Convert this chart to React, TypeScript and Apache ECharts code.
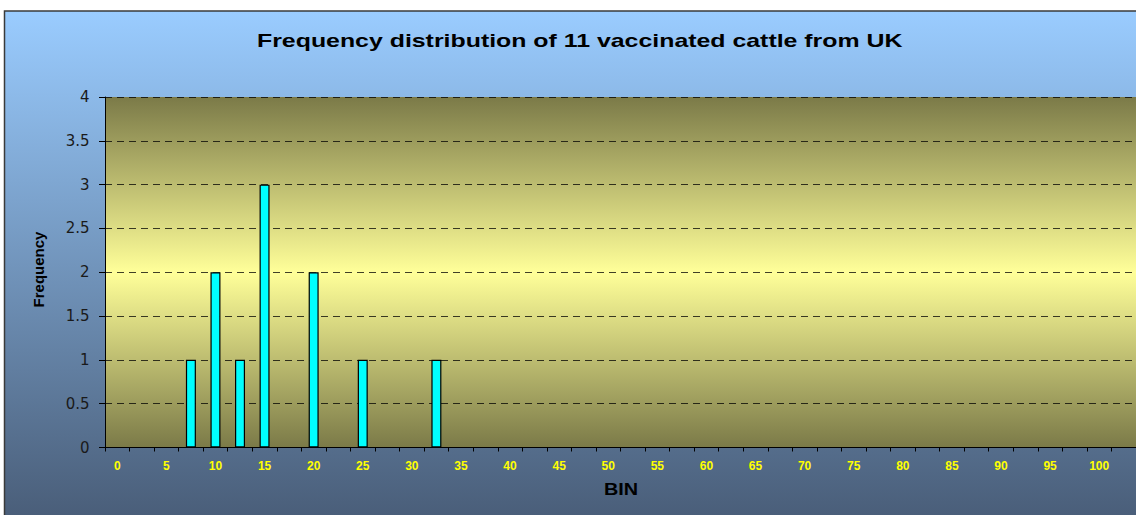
import React, { useEffect, useRef } from "react";
import * as echarts from "echarts";

const TITLE = "Frequency distribution of 11 vaccinated cattle from UK";
const X_NAME = "BIN";
const Y_NAME = "Frequency";

const bins: string[] = [
  "0", "2.5", "5", "7.5", "10", "12.5", "15", "17.5", "20", "22.5",
  "25", "27.5", "30", "32.5", "35", "37.5", "40", "42.5", "45", "47.5",
  "50", "52.5", "55", "57.5", "60", "62.5", "65", "67.5", "70", "72.5",
  "75", "77.5", "80", "82.5", "85", "87.5", "90", "92.5", "95", "97.5",
  "100", "More",
];

const frequency: number[] = [
  0, 0, 0, 1, 2, 1, 3, 0, 2, 0,
  1, 0, 0, 1, 0, 0, 0, 0, 0, 0,
  0, 0, 0, 0, 0, 0, 0, 0, 0, 0,
  0, 0, 0, 0, 0, 0, 0, 0, 0, 0,
  0, 0,
];

const FONT = "Arial, 'Liberation Sans', sans-serif";

export default function App() {
  const ref = useRef<HTMLDivElement>(null);
  useEffect(() => {
    if (!ref.current) return;
    const chart = echarts.init(ref.current, undefined, { renderer: "svg" });
    chart.setOption({
      animation: false,
      backgroundColor: "#ffffff",
      graphic: [
        {
          type: "rect",
          z: -10,
          silent: true,
          shape: { x: 4.5, y: 11, width: 1140, height: 510 },
          style: {
            fill: new echarts.graphic.LinearGradient(0, 0, 0, 1, [
              { offset: 0, color: "#9ACCFF" },
              { offset: 1, color: "#495D78" },
            ]),
            stroke: "#3a3a3a",
            lineWidth: 1.5,
          },
        },
        {
          type: "text",
          x: 257,
          y: 41,
          scaleX: 1.31,
          silent: true,
          style: {
            text: TITLE,
            font: `bold 19px ${FONT}`,
            fill: "#000",
            align: "left",
            verticalAlign: "middle",
          },
        },
        {
          type: "text",
          x: 621,
          y: 490,
          scaleX: 1.24,
          silent: true,
          style: {
            text: X_NAME,
            font: `bold 16px ${FONT}`,
            fill: "#000",
            align: "center",
            verticalAlign: "middle",
          },
        },
        {
          type: "text",
          x: 38,
          y: 269.5,
          rotation: Math.PI / 2,
          silent: true,
          style: {
            text: Y_NAME,
            font: `bold 15px ${FONT}`,
            fill: "#000",
            align: "center",
            verticalAlign: "middle",
          },
        },
      ],
      grid: {
        left: 105,
        top: 97,
        right: -1,
        bottom: 67.5,
        show: true,
        borderWidth: 0,
        backgroundColor: new echarts.graphic.LinearGradient(0, 0, 0, 1, [
          { offset: 0, color: "#7B7A48" },
          { offset: 0.5, color: "#FFFF99" },
          { offset: 1, color: "#7B7A48" },
        ]),
      },
      xAxis: {
        type: "category",
        data: bins,
        axisLine: { show: true, lineStyle: { color: "#000", width: 1 } },
        axisTick: {
          show: true,
          interval: 0,
          length: 4,
          lineStyle: { color: "#000" },
        },
        axisLabel: {
          interval: 1,
          margin: 12,
          fontFamily: FONT,
          fontSize: 12,
          fontWeight: "bold",
          color: "#FFFF00",
        },
        splitLine: { show: false },
      },
      yAxis: {
        type: "value",
        min: 0,
        max: 4,
        interval: 0.5,
        axisLine: { show: true, lineStyle: { color: "#000", width: 1 } },
        axisTick: { show: true, length: 6, lineStyle: { color: "#000" } },
        axisLabel: {
          margin: 15.5,
          fontFamily: "'DejaVu Sans', sans-serif",
          fontSize: 15,
          color: "#1a1a1a",
        },
        splitLine: {
          show: true,
          lineStyle: { color: "#000", opacity: 0.75, type: [7, 5], width: 1 },
        },
      },
      series: [
        {
          type: "bar",
          data: frequency.map((v) => (v === 0 ? null : v)),
          barWidth: 10,
          itemStyle: { color: "#00FFFF", borderColor: "#000", borderWidth: 1.2 },
        },
      ],
    });
    return () => chart.dispose();
  }, []);
  return (
    <div
      ref={ref}
      style={{ position: "fixed", left: 0, top: 0, width: 1136, height: 515 }}
    />
  );
}
